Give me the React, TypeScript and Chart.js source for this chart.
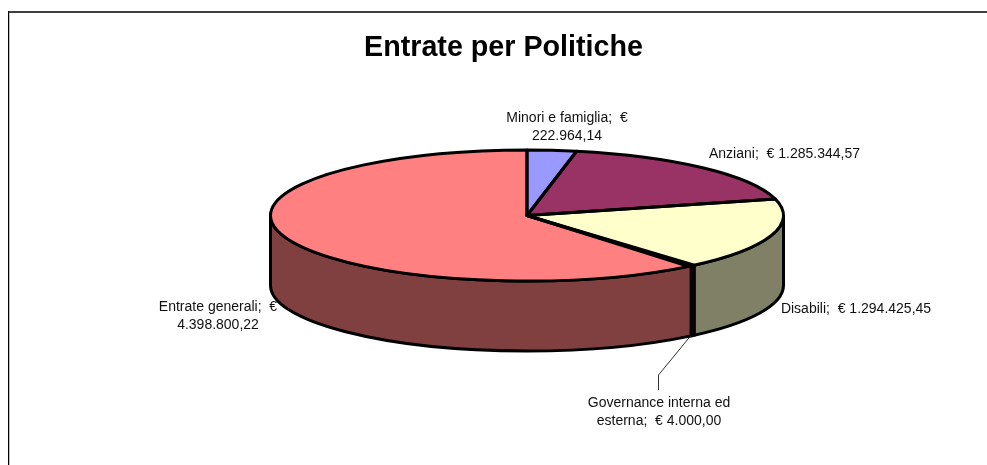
import React, { useEffect, useRef } from "react";
import { Chart, registerables } from "chart.js";

Chart.register(...registerables);

const CHART_TITLE = "Entrate per Politiche";
const categories = ["Minori e famiglia", "Anziani", "Disabili", "Governance interna ed esterna", "Entrate generali"];
const seriesValues = [222964.14, 1285344.57, 1294425.45, 4000.0, 4398800.22];
const topColors = ["#9999FF", "#993366", "#FFFFCC", "#660066", "#FF8080"];
const wallColors = ["#4C4C80", "#4C1933", "#808066", "#330033", "#804040"];
const labelLines = [
  ["Minori e famiglia;  €", "222.964,14"],
  ["Anziani;  € 1.285.344,57"],
  ["Disabili;  € 1.294.425,45"],
  ["Governance interna ed", "esterna;  € 4.000,00"],
  ["Entrate generali;  €", "4.398.800,22"],
];
// centre x and first-line middle y of each data label
const labelAnchors = [
  [567, 118],
  [784.5, 154],
  [856, 309],
  [659, 403],
  [218, 307],
];

const W = 987;
const H = 465;
const CX = 527;
const CY = 215.5;
const RX = 256.5;
const RY = 65.5;
const DEPTH = 70;
const R = 100;
// very thin slices are still drawn with a visible sweep, as the reference does
const MIN_SWEEP = 0.03;

function sweep(arc: any): [number, number] {
  if (arc.endAngle - arc.startAngle >= MIN_SWEEP) return [arc.startAngle, arc.endAngle];
  const mid = (arc.startAngle + arc.endAngle) / 2;
  return [mid - MIN_SWEEP / 2, mid + MIN_SWEEP / 2];
}

const pie3d = {
  id: "pie3d",
  beforeDraw(chart: any) {
    const ctx = chart.ctx;
    ctx.save();
    ctx.fillStyle = "#fff";
    ctx.fillRect(0, 0, W, H);
    ctx.fillStyle = "#404040";
    ctx.fillRect(8, 11, W - 8, 2);
    ctx.fillStyle = "#c0c0c0";
    ctx.fillRect(9, 13, 1, H - 13);
    ctx.fillStyle = "#000";
    ctx.fillRect(8, 11, 1, H - 11);
    ctx.restore();
  },
  beforeDatasetsDraw(chart: any) {
    const ctx = chart.ctx;
    const arcs = chart.getDatasetMeta(0).data;
    ctx.save();
    ctx.lineWidth = 3;
    ctx.lineJoin = "round";
    ctx.strokeStyle = "#000";
    arcs.forEach((arc: any, i: number) => {
      const [s, e] = sweep(arc);
      const a = Math.max(s, 0);
      const b = Math.min(e, Math.PI);
      if (b <= a) return;
      ctx.beginPath();
      ctx.ellipse(CX, CY, RX, RY, 0, a, b);
      ctx.ellipse(CX, CY + DEPTH, RX, RY, 0, b, a, true);
      ctx.closePath();
      ctx.fillStyle = wallColors[i];
      ctx.fill();
      ctx.stroke();
    });
    ctx.restore();
    ctx.save();
    ctx.translate(CX, CY);
    ctx.scale(RX / R, RY / R);
    ctx.translate(-chart.chartArea.left - R, -chart.chartArea.top - R);
  },
  afterDatasetsDraw(chart: any) {
    const ctx = chart.ctx;
    ctx.restore();
    const arcs = chart.getDatasetMeta(0).data;
    ctx.save();
    ctx.lineWidth = 3;
    ctx.lineJoin = "round";
    ctx.strokeStyle = "#000";
    arcs.forEach((arc: any, i: number) => {
      const [s, e] = sweep(arc);
      ctx.beginPath();
      ctx.moveTo(CX, CY);
      ctx.ellipse(CX, CY, RX, RY, 0, s, e);
      ctx.closePath();
      if (s !== arc.startAngle) {
        ctx.fillStyle = topColors[i];
        ctx.fill();
      }
      ctx.stroke();
    });
    ctx.restore();
  },
  afterDraw(chart: any) {
    const ctx = chart.ctx;
    ctx.save();
    ctx.strokeStyle = "#333";
    ctx.lineWidth = 1;
    ctx.beginPath();
    ctx.moveTo(690.5, 336);
    ctx.lineTo(658.5, 375);
    ctx.lineTo(658.5, 390);
    ctx.stroke();

    ctx.fillStyle = "#000";
    ctx.textAlign = "center";
    ctx.textBaseline = "middle";
    ctx.font = 'bold 28.7px "Liberation Sans", Arial, sans-serif';
    ctx.fillText(CHART_TITLE, 503.5, 48);
    ctx.fillStyle = "#111";
    ctx.font = '14px "Liberation Sans", Arial, sans-serif';
    labelLines.forEach((lines, i) => {
      lines.forEach((line, j) => {
        ctx.fillText(line, labelAnchors[i][0], labelAnchors[i][1] + j * 18);
      });
    });
    ctx.restore();
  },
};

export default function App() {
  const ref = useRef<HTMLCanvasElement>(null);
  useEffect(() => {
    const chart = new Chart(ref.current!, {
      type: "pie",
      data: {
        labels: categories,
        datasets: [{ data: seriesValues, backgroundColor: topColors, borderWidth: 0, clip: false } as any],
      },
      options: {
        responsive: false,
        animation: false,
        layout: {
          padding: {
            left: CX - R,
            right: W - CX - R,
            top: CY - R,
            bottom: H - CY - R,
          },
        },
        plugins: { legend: { display: false }, title: { display: false }, tooltip: { enabled: false } },
      },
      plugins: [pie3d],
    } as any);
    return () => chart.destroy();
  }, []);
  return (
    <canvas
      ref={ref}
      width={W}
      height={H}
      style={{ position: "fixed", left: 0, top: 0, width: W, height: H, display: "block" }}
    />
  );
}
